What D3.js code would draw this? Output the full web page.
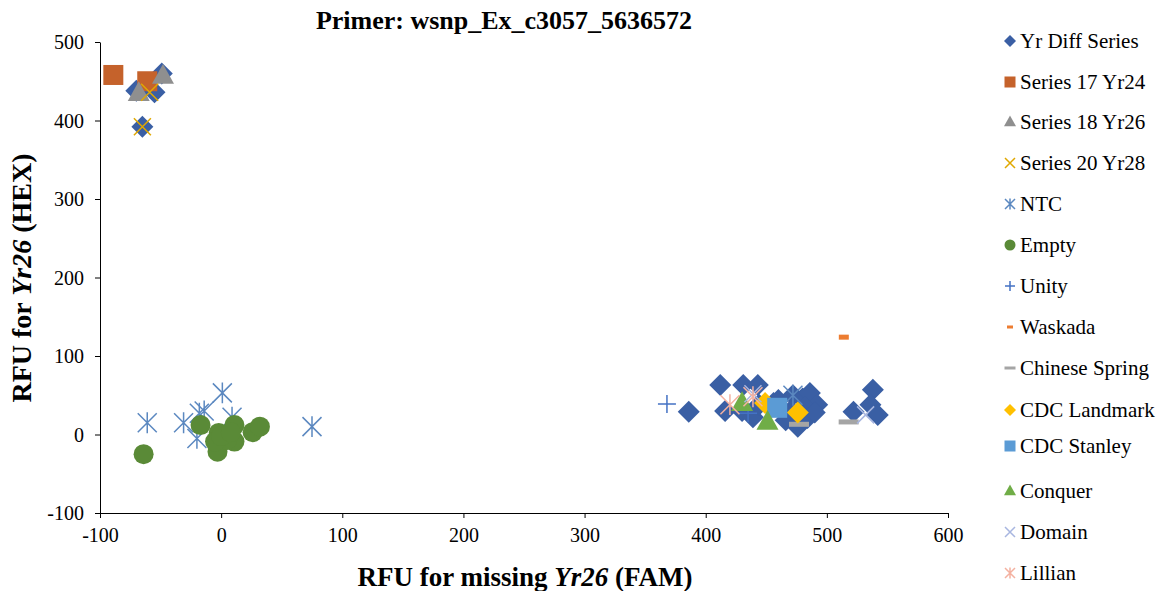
<!DOCTYPE html>
<html>
<head>
<meta charset="utf-8">
<script src="https://cdn.jsdelivr.net/npm/d3@7"></script>
<style>
body { margin: 0; background: #fff; }
text { font-family: "Liberation Serif", "Times New Roman", serif; }
</style>
</head>
<body>
<div id="chart"></div>
<script>
// Valores
var xTicks = [-100, 0, 100, 200, 300, 400, 500, 600];
var yTicks = [-100, 0, 100, 200, 300, 400, 500];

var yrDiff = [[-49, 460], [-70, 438], [-55, 436], [-65, 392],
	[386, 29], [412, 63], [431, 63], [443, 63], [416, 30], [430, 30], [439, 22], [444, 38],
	[456, 40], [460, 44], [472, 50], [480, 46], [486, 53], [492, 38], [482, 35], [476, 10],
	[484, 21], [470, 30], [538, 57], [522, 29], [536, 38], [542, 25], [466, 18], [490, 28]];
var series17 = [[-89, 458], [-61, 450]];
var series18 = [[-48, 457], [-68, 435]];
var series20 = [[-59, 436], [-65, 392]];
var ntc = [[-61, 15], [-31, 15], [-18, 27], [-14, 30], [1, 53], [9, 22], [-20, -5], [75, 10], [472, 50]];
var empty = [[-64, -25], [-17, 12], [-3, -22], [-2, 2], [11, 12], [11, -9], [5, -7], [-5, -9],
	[0, -2], [8, 3], [26, 3], [32, 10]];
var unity = [[368, 39], [435, 27]];
var waskada = [[514, 124]];
var chineseSpring = [[477, 13], [518, 16]];
var cdcLandmark = [[449, 40], [476, 28]];
var cdcStanley = [[459, 34]];
var conquer = [[430, 40], [451, 16]];
var domain = [[439, 52], [532, 25]];
var lillian = [[420, 38], [439, 48]];

var series = [
	{name: "Yr Diff Series", data: yrDiff, type: "diamond", color: "#3a5fa4"},
	{name: "Series 17 Yr24", data: series17, type: "square", color: "#c5622b"},
	{name: "Series 18 Yr26", data: series18, type: "triangle", color: "#8f8f8f"},
	{name: "Series 20 Yr28", data: series20, type: "x", color: "#e0a800"},
	{name: "NTC", data: ntc, type: "asterisk", color: "#5b88c0"},
	{name: "Empty", data: empty, type: "circle", color: "#5a8a37"},
	{name: "Unity", data: unity, type: "plus", color: "#4472c4"},
	{name: "Waskada", data: waskada, type: "dash", color: "#ed7d31"},
	{name: "Chinese Spring", data: chineseSpring, type: "dash", color: "#a5a5a5"},
	{name: "CDC Landmark", data: cdcLandmark, type: "diamond", color: "#ffc000"},
	{name: "CDC Stanley", data: cdcStanley, type: "square", color: "#5b9bd5"},
	{name: "Conquer", data: conquer, type: "triangle", color: "#70ad47"},
	{name: "Domain", data: domain, type: "x", color: "#a8b6e0"},
	{name: "Lillian", data: lillian, type: "asterisk", color: "#f4b1a0"}
];

// Tamanhos dos marcadores no grafico
var plotSize = {diamond: 22, square: 20, triangle: 22, x: 17, asterisk: 19, circle: 20, plus: 18, dash: 12};
var dashSize = {"Waskada": [10, 5], "Chinese Spring": [20, 5]};

var w = 1160, h = 591;
var margin = {top: 42, right: 212, bottom: 78, left: 100};
var width = w - margin.left - margin.right;
var height = h - margin.top - margin.bottom;

var svg = d3.select("#chart").append("svg")
	.attr("width", w)
	.attr("height", h);

var g = svg.append("g")
	.attr("transform", "translate(" + margin.left + "," + margin.top + ")");

var x = d3.scaleLinear().domain([-100, 600]).range([0, width]);
var y = d3.scaleLinear().domain([-100, 500]).range([height, 0]);

// Eixos
var fmt = function(d) { return String(d); };
var xAxis = g.append("g")
	.attr("transform", "translate(0," + height + ")")
	.call(d3.axisBottom(x).tickValues(xTicks).tickFormat(fmt).tickSize(5).tickSizeOuter(0));
var yAxis = g.append("g")
	.call(d3.axisLeft(y).tickValues(yTicks).tickFormat(fmt).tickSize(5).tickSizeOuter(0));

[xAxis, yAxis].forEach(function(a) {
	a.attr("font-family", null).attr("font-size", null);
	a.selectAll("path, line").attr("stroke", "#000").attr("stroke-width", 1);
	a.selectAll("text").attr("font-family", "Liberation Serif").attr("font-size", "20px").attr("fill", "#000");
});
xAxis.selectAll("text").attr("y", 10).attr("dy", "0.95em");
yAxis.selectAll("text").attr("x", -16).attr("dy", "0.33em");

// Desenha um marcador
function marker(sel, type, s, color, name) {
	var half = s / 2;
	if (type == "diamond") {
		var a = s / Math.SQRT2;
		sel.append("rect").attr("x", -a / 2).attr("y", -a / 2).attr("width", a).attr("height", a)
			.attr("transform", "rotate(45)").attr("fill", color);
	} else if (type == "square") {
		sel.append("rect").attr("x", -half).attr("y", -half).attr("width", s).attr("height", s).attr("fill", color);
	} else if (type == "triangle") {
		var th = s * 0.9;
		sel.append("path").attr("d", "M0," + (-th * 0.6) + "L" + half + "," + (th * 0.4) + "L" + (-half) + "," + (th * 0.4) + "Z")
			.attr("fill", color);
	} else if (type == "circle") {
		sel.append("circle").attr("r", half).attr("fill", color);
	} else if (type == "x") {
		sel.append("path").attr("d", "M" + (-half) + "," + (-half) + "L" + half + "," + half + "M" + half + "," + (-half) + "L" + (-half) + "," + half)
			.attr("stroke", color).attr("stroke-width", 1.5).attr("fill", "none");
	} else if (type == "asterisk") {
		sel.append("path").attr("d", "M" + (-half) + "," + (-half) + "L" + half + "," + half + "M" + half + "," + (-half) + "L" + (-half) + "," + half + "M0," + (-half * 1.1) + "L0," + (half * 1.1))
			.attr("stroke", color).attr("stroke-width", 1.5).attr("fill", "none");
	} else if (type == "plus") {
		sel.append("path").attr("d", "M" + (-half) + ",0L" + half + ",0M0," + (-half) + "L0," + half)
			.attr("stroke", color).attr("stroke-width", 1.5).attr("fill", "none");
	} else if (type == "dash") {
		var d = dashSize[name] || [s, 4];
		sel.append("rect").attr("x", -d[0] / 2).attr("y", -d[1] / 2).attr("width", d[0]).attr("height", d[1]).attr("fill", color);
	}
}

// Pontos
series.forEach(function(sr) {
	g.selectAll(null)
		.data(sr.data)
		.enter()
		.append("g")
		.attr("transform", function(d) { return "translate(" + x(d[0]) + "," + y(d[1]) + ")"; })
		.each(function() { marker(d3.select(this), sr.type, plotSize[sr.type], sr.color, sr.name); });
});

// Legenda
var legendY = [41, 82, 122, 163, 204, 245, 286, 327, 368, 410, 446, 491, 532, 573];
var legendSize = {diamond: 12, square: 11, triangle: 12, x: 10, asterisk: 10, circle: 11, plus: 10, dash: 8};
var legendDash = {"Waskada": [6, 3], "Chinese Spring": [11, 3]};
series.forEach(function(sr, i) {
	var lg = svg.append("g").attr("transform", "translate(1010," + legendY[i] + ")");
	var saved = dashSize[sr.name];
	dashSize[sr.name] = legendDash[sr.name];
	marker(lg, sr.type, legendSize[sr.type], sr.color, sr.name);
	dashSize[sr.name] = saved;
	lg.append("text").attr("x", 10).attr("dy", "0.33em").attr("font-size", "21px").attr("fill", "#000").text(sr.name);
});

// Titulo
svg.append("text")
	.attr("x", 504).attr("y", 29)
	.attr("text-anchor", "middle")
	.attr("font-size", "26px").attr("font-weight", "bold")
	.text("Primer: wsnp_Ex_c3057_5636572");

// Titulos dos eixos
var xt = svg.append("text")
	.attr("x", 525).attr("y", 586)
	.attr("text-anchor", "middle")
	.attr("font-size", "27px").attr("font-weight", "bold");
xt.append("tspan").text("RFU for missing ");
xt.append("tspan").attr("font-style", "italic").text("Yr26");
xt.append("tspan").text(" (FAM)");

var yt = svg.append("text")
	.attr("transform", "translate(31,278) rotate(-90)")
	.attr("text-anchor", "middle")
	.attr("font-size", "28px").attr("font-weight", "bold");
yt.append("tspan").text("RFU for ");
yt.append("tspan").attr("font-style", "italic").text("Yr26");
yt.append("tspan").text(" (HEX)");
</script>
</body>
</html>
